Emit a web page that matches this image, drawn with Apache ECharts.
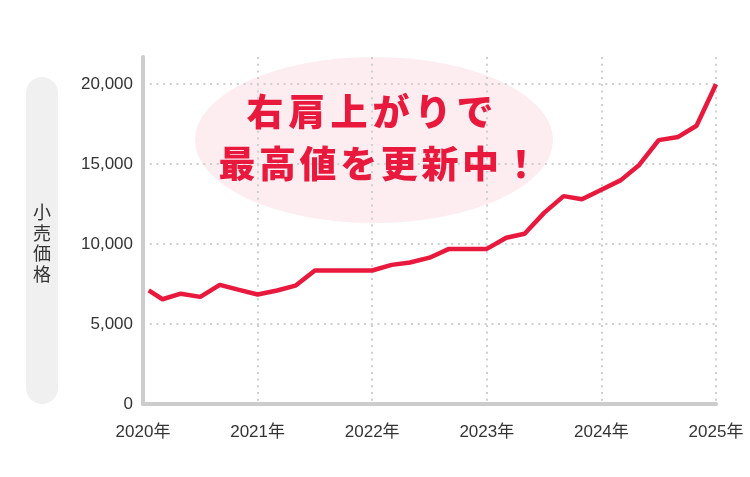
<!DOCTYPE html>
<html>
<head>
<meta charset="utf-8">
<script src="https://cdn.jsdelivr.net/npm/echarts@6/dist/echarts.min.js"></script>
<style>
html,body{margin:0;padding:0;background:#fff;}
#chart{width:750px;height:477px;}
</style>
</head>
<body>
<div id="chart"></div>
<script>
// Data (decimal years, retail price)
const dates = [2020.05, 2020.17, 2020.33, 2020.5, 2020.67, 2020.83,
  2021.0, 2021.17, 2021.33, 2021.5, 2021.67, 2021.83,
  2022.0, 2022.17, 2022.33, 2022.5, 2022.67, 2022.83,
  2023.0, 2023.17, 2023.33, 2023.5, 2023.67, 2023.83,
  2024.0, 2024.17, 2024.33, 2024.5, 2024.67, 2024.83, 2025.0];
const prices = [7100, 6550, 6900, 6700, 7450, 7150,
  6850, 7100, 7400, 8350, 8350, 8350,
  8350, 8700, 8850, 9150, 9700, 9700,
  9700, 10400, 10650, 11950, 13000, 12800,
  13400, 14000, 14950, 16500, 16700, 17400, 20000];
const yTicks = [0, 5000, 10000, 15000, 20000];
const yearLabels = ['2020年', '2021年', '2022年', '2023年', '2024年', '2025年'];
const axisTitle = '小売価格';
const calloutLines = ['右肩上がりで', '最高値を更新中！'];

const RED = '#e8193c';
const FONT = '"Liberation Sans", Arial, "Noto Sans CJK JP", sans-serif';
const CJK = '"Noto Sans CJK JP", sans-serif';
const chart = echarts.init(document.getElementById('chart'));
const seriesData = dates.map((d, i) => [d, prices[i]]);

function spaced(str, w) {
  return {
    text: str.split('').map(c => '{c|' + c + '}').join(''),
    rich: { c: { width: w, align: 'center', fill: RED, fontSize: 37, fontWeight: 900, fontFamily: CJK } },
    align: 'center', verticalAlign: 'middle'
  };
}

chart.setOption({
  animation: false,
  backgroundColor: '#ffffff',
  grid: { left: 143, right: 34, top: 57, bottom: 73, containLabel: false },
  xAxis: {
    type: 'value', min: 2020, max: 2025, interval: 1,
    axisLine: { show: true, lineStyle: { color: '#cccccc', width: 4 } },
    axisTick: { show: false },
    axisLabel: {
      margin: 20, color: '#333', fontSize: 17, fontFamily: FONT,
      formatter: v => yearLabels[Math.round(v - 2020)] || ''
    },
    splitLine: { show: true, showMaxLine: true, lineStyle: { color: '#cfcfcf', width: 2, type: [2, 4.7] } }
  },
  yAxis: {
    type: 'value', min: 0, max: 21700, interval: 5000,
    axisLine: { show: true, lineStyle: { color: '#cccccc', width: 4 } },
    axisTick: { show: false },
    axisLabel: {
      margin: 10, color: '#333', fontSize: 17, fontFamily: FONT, showMaxLabel: false,
      formatter: v => (yTicks.indexOf(v) >= 0 ? v.toLocaleString('en-US') : '')
    },
    splitLine: { show: true, showMinLine: false, showMaxLine: false, lineStyle: { color: '#cfcfcf', width: 2, type: [2, 4.7] } }
  },
  graphic: [
    { type: 'rect', z: 0, shape: { x: 26, y: 77, width: 32, height: 327, r: 16 }, style: { fill: '#f0f0f0' } },
    { type: 'text', z: 1, x: 42, y: 243, style: {
        text: axisTitle.split('').join('\n'), fill: '#333', fontSize: 18, lineHeight: 20.5,
        fontFamily: CJK, align: 'center', verticalAlign: 'middle' } },
    { type: 'circle', z: 0, x: 374, y: 140, scaleX: 179 / 83, scaleY: 1, shape: { cx: 0, cy: 0, r: 83 },
      style: { fill: 'rgba(247,170,188,0.22)' } },
    { type: 'text', z: 10, x: 370, y: 112, style: spaced(calloutLines[0], 42) },
    { type: 'text', z: 10, x: 379, y: 164, style: spaced(calloutLines[1], 40.6) }
  ],
  series: [{
    type: 'line', data: seriesData, symbol: 'none', smooth: false, z: 5,
    lineStyle: { color: RED, width: 4.5 }
  }]
});
</script>
</body>
</html>
